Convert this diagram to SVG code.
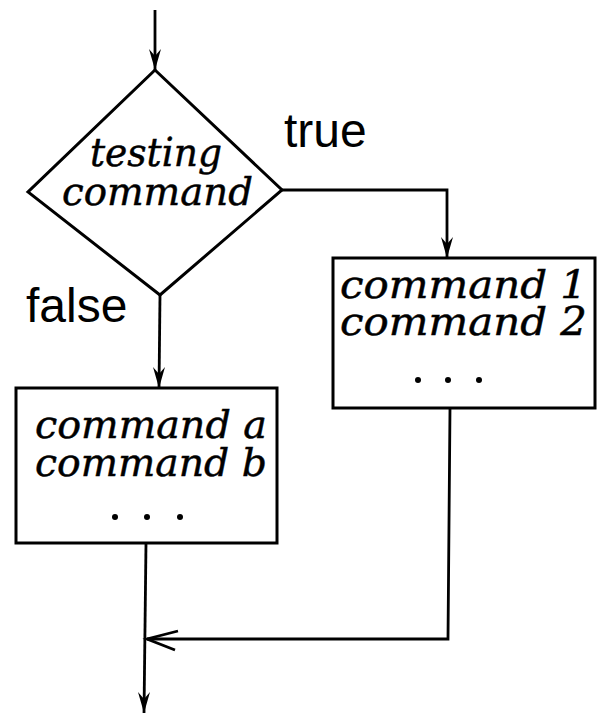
<svg xmlns="http://www.w3.org/2000/svg" width="605" height="715" viewBox="0 0 605 715">
  <style>
    .shape { fill: none; stroke: #000; stroke-width: 3; stroke-linejoin: miter; }
    .wire { fill: none; stroke: #000; stroke-width: 2.8; }
    .cmd { font-family: "DejaVu Serif", "Liberation Serif", serif; font-style: italic; font-size: 40px; fill: #000; stroke: #000; stroke-width: 0.5; }
    .lbl { font-family: "Liberation Sans", Arial, sans-serif; font-size: 48px; fill: #000; }
    .dot { fill: #000; }
  </style>
  <defs>
    <marker id="head" markerWidth="14" markerHeight="22" refX="7" refY="21" orient="0" markerUnits="userSpaceOnUse">
      <path d="M1,0 L7,21 L13,0 L7,7 Z" fill="#000"/>
    </marker>
  </defs>
  <rect width="605" height="715" fill="#fff"/>

  <!-- decision -->
  <g id="test">
    <polygon class="shape" points="155,70 282,190 160,295 28,192"/>
    <text class="cmd" x="90" y="166" textLength="132" lengthAdjust="spacingAndGlyphs">testing</text>
    <text class="cmd" x="62" y="205" textLength="191" lengthAdjust="spacingAndGlyphs">command</text>
  </g>

  <!-- true branch -->
  <g id="true-branch">
    <rect class="shape" x="333" y="258" width="262" height="150"/>
    <text class="cmd" x="340" y="298" textLength="247" lengthAdjust="spacingAndGlyphs">command 1</text>
    <text class="cmd" x="340" y="335" textLength="247" lengthAdjust="spacingAndGlyphs">command 2</text>
    <circle class="dot" cx="418" cy="380" r="3"/>
    <circle class="dot" cx="448" cy="380" r="3"/>
    <circle class="dot" cx="479" cy="380" r="3"/>
  </g>

  <!-- false branch -->
  <g id="false-branch">
    <rect class="shape" x="16" y="388" width="261" height="155"/>
    <text class="cmd" x="35" y="438" textLength="232" lengthAdjust="spacingAndGlyphs">command a</text>
    <text class="cmd" x="35" y="476" textLength="232" lengthAdjust="spacingAndGlyphs">command b</text>
    <circle class="dot" cx="115" cy="517" r="3"/>
    <circle class="dot" cx="147" cy="517" r="3"/>
    <circle class="dot" cx="180" cy="517" r="3"/>
  </g>

  <!-- branch labels -->
  <g id="labels">
    <text class="lbl" x="284" y="147">true</text>
    <text class="lbl" x="26" y="322">false</text>
  </g>

  <!-- connectors -->
  <g id="connectors">
    <line class="wire" x1="155" y1="10" x2="155" y2="70" marker-end="url(#head)"/>
    <polyline class="wire" points="282,190 447,190 447,258" marker-end="url(#head)"/>
    <line class="wire" x1="160" y1="295" x2="159" y2="388" marker-end="url(#head)"/>
    <polyline class="wire" points="450,408 448,639 147,639"/>
    <polyline class="wire" points="178,631 147,639 175,650"/>
    <line class="wire" x1="146" y1="543" x2="144" y2="713" marker-end="url(#head)"/>
  </g>
</svg>
